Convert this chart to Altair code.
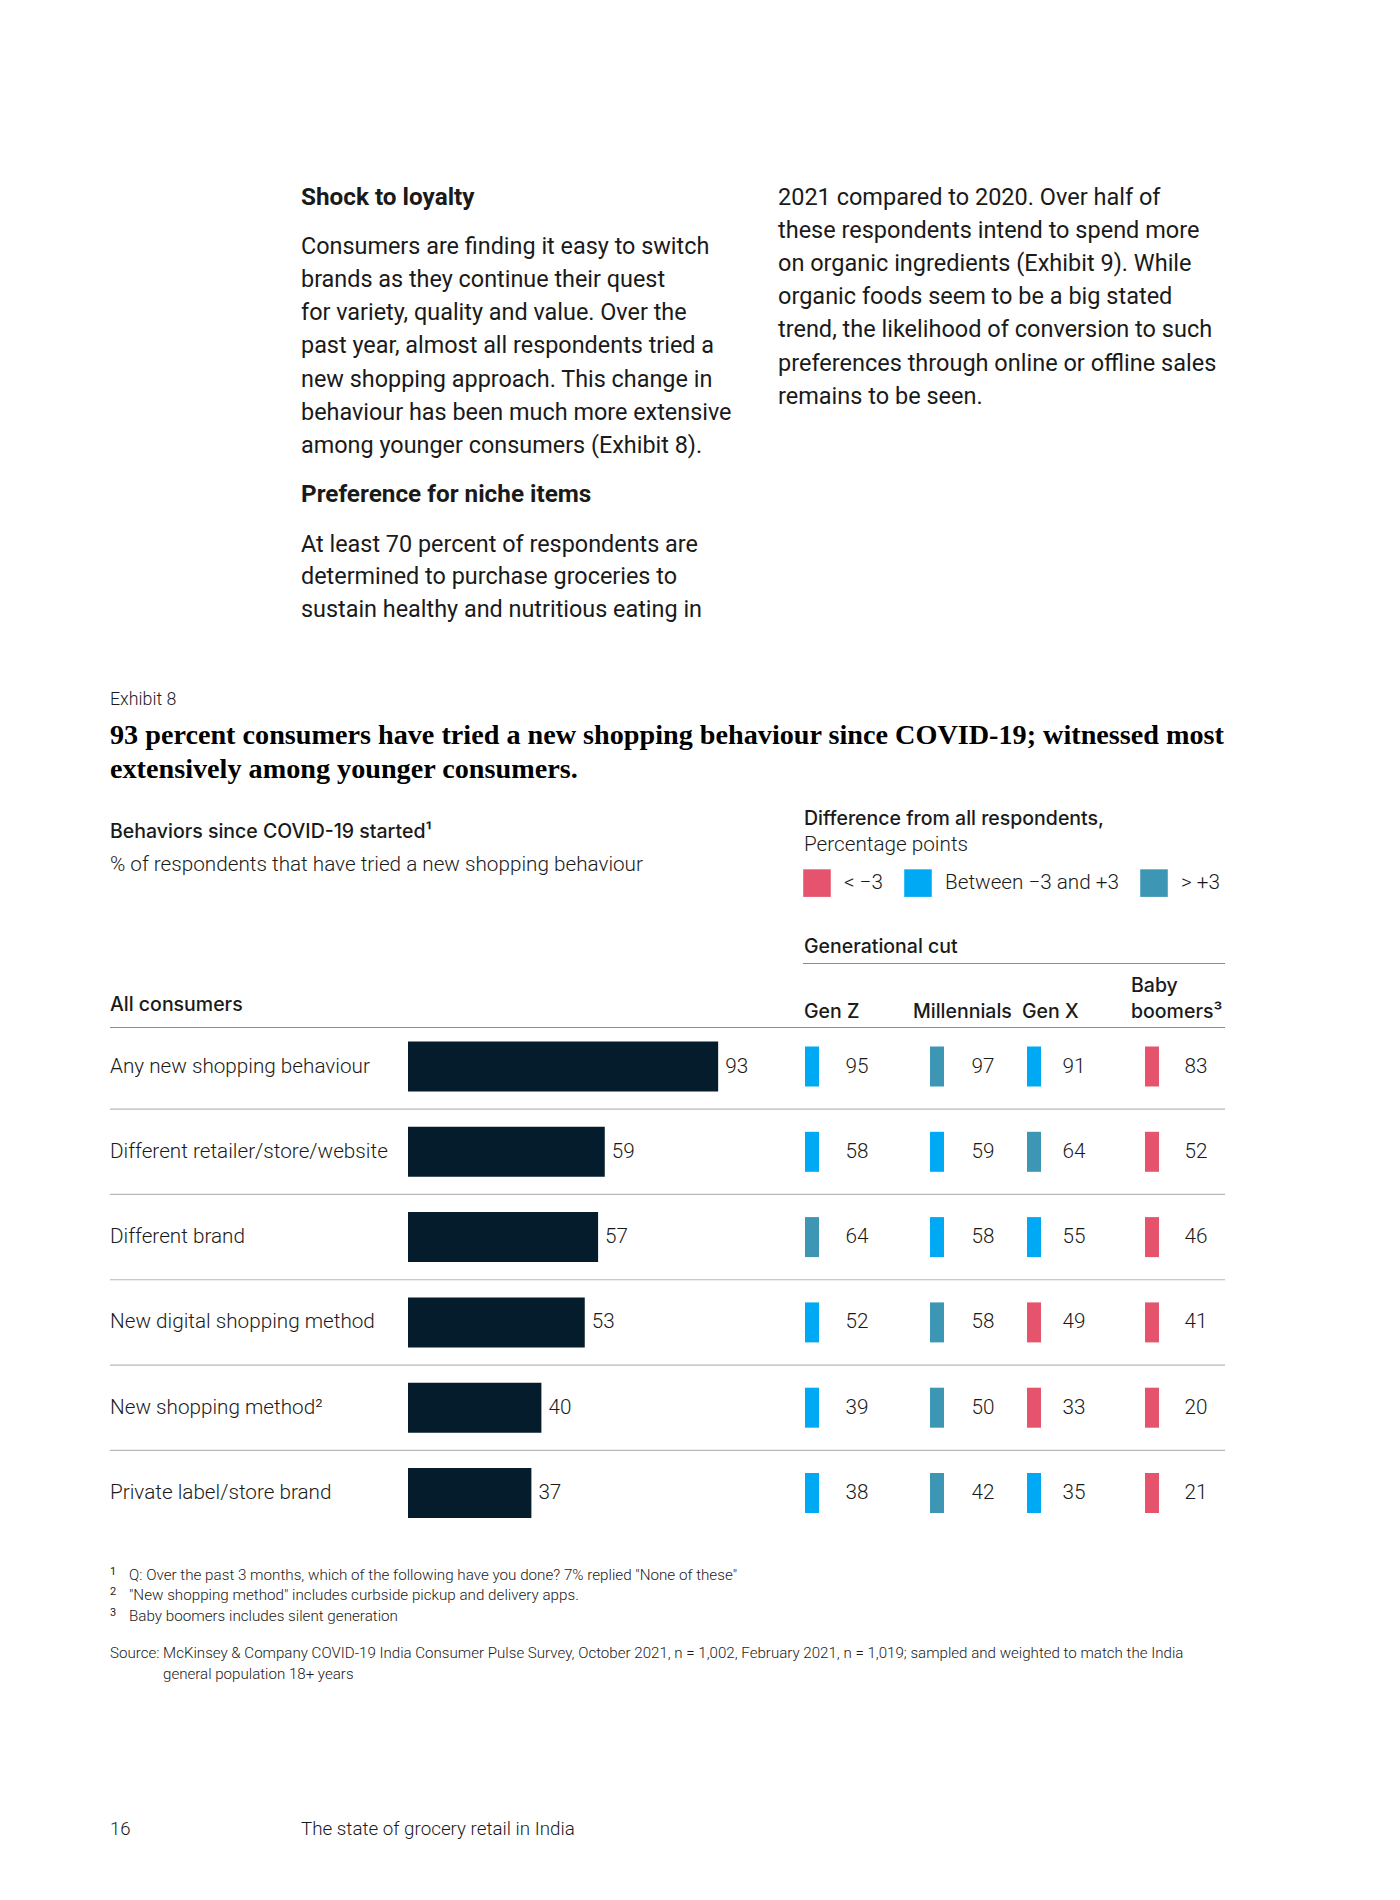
import altair as alt
import pandas as pd

# ---------------- data ----------------
behaviors = [
    "Any new shopping behaviour",
    "Different retailer/store/website",
    "Different brand",
    "New digital shopping method",
    "New shopping method²",
    "Private label/store brand",
]
all_consumers = [93, 59, 57, 53, 40, 37]
gen_z = [95, 58, 64, 52, 39, 38]
millennials = [97, 59, 58, 58, 50, 42]
gen_x = [91, 64, 55, 49, 33, 35]
boomers = [83, 52, 46, 41, 20, 21]
generations = ["Gen Z", "Millennials", "Gen X", "Baby boomers³"]
legend_labels = ["< −3", "Between −3 and +3", "> +3"]
legend_colors = ["#E5546C", "#00A9F4", "#3C96B4"]

left_col = [
    "Consumers are finding it easy to switch",
    "brands as they continue their quest",
    "for variety, quality and value. Over the",
    "past year, almost all respondents tried a",
    "new shopping approach. This change in",
    "behaviour has been much more extensive",
    "among younger consumers (Exhibit 8).",
]
left_col2 = [
    "At least 70 percent of respondents are",
    "determined to purchase groceries to",
    "sustain healthy and nutritious eating in",
]
right_col = [
    "2021 compared to 2020. Over half of",
    "these respondents intend to spend more",
    "on organic ingredients (Exhibit 9). While",
    "organic foods seem to be a big stated",
    "trend, the likelihood of conversion to such",
    "preferences through online or offline sales",
    "remains to be seen.",
]
title_lines = [
    "93 percent consumers have tried a new shopping behaviour since COVID-19; witnessed most",
    "extensively among younger consumers.",
]
footnotes = [
    "Q: Over the past 3 months, which of the following have you done? 7% replied \"None of these\"",
    "\"New shopping method\" includes curbside pickup and delivery apps.",
    "Baby boomers includes silent generation",
]
source_lines = [
    "Source: McKinsey & Company COVID-19 India Consumer Pulse Survey, October 2021, n = 1,002, February 2021, n = 1,019; sampled and weighted to match the India",
    "general population 18+ years",
]

# ---------------- tables ----------------
def cat(d):
    if d < -3:
        return legend_labels[0]
    if d > 3:
        return legend_labels[2]
    return legend_labels[1]

main = pd.DataFrame({"idx": range(len(behaviors)), "behavior": behaviors, "all": all_consumers})
long_rows = []
for g, vals in zip(generations, [gen_z, millennials, gen_x, boomers]):
    for i, v in enumerate(vals):
        long_rows.append({"idx": i, "gen": g, "value": v, "cat": cat(v - all_consumers[i])})
gen_df = pd.DataFrame(long_rows)

O = 8      # page margin
DY = 2.5   # global vertical nudge
SANS = "Roboto"
MED = "Inter"
SERIF = "Liberation Serif"
INK = "#1a1a1a"
LIGHT = 20.7
MEDSZ = 19.5

row0 = 1064 + DY - O
step = 85.3
yscale = alt.Scale(domain=[0, len(behaviors) - 1],
                   range=[row0, row0 + step * (len(behaviors) - 1)],
                   padding=0, nice=False, zero=False)
xscale = alt.Scale(domain=[0, 100], range=[408 - O, 408 - O + 333.5], padding=0, nice=False)
Y = alt.Y("idx:Q", scale=yscale, axis=None)

one = alt.Data(values=[{"a": 1}])


def txt(s, x, y, size=19, weight=400, font=SANS, color=INK, align="left", baseline="middle"):
    return alt.Chart(one).mark_text(
        text=s, font=font, fontSize=size, fontWeight=weight, color=color,
        align=align, baseline=baseline
    ).encode(x=alt.value(x - O), y=alt.value(y + DY - O))


def hline(x1, x2, y, color, w=1):
    return alt.Chart(one).mark_rule(color=color, strokeWidth=w).encode(
        x=alt.value(x1 - O), x2=alt.value(x2 - O), y=alt.value(y + DY - O))


layers = []

# ---- article text ----
layers.append(txt("Shock to loyalty", 301, 195, 24.3, 700))
for i, s in enumerate(left_col):
    layers.append(txt(s, 301, 244 + i * 33.3, 23.4, 400))
layers.append(txt("Preference for niche items", 301, 492, 24.3, 700))
for i, s in enumerate(left_col2):
    layers.append(txt(s, 301, 542 + i * 32.7, 23.4, 400))
for i, s in enumerate(right_col):
    layers.append(txt(s, 778, 195 + i * 33.2, 23.5, 400))

# ---- exhibit header ----
layers.append(txt("Exhibit 8", 110, 697, 17.8, 300))
for i, s in enumerate(title_lines):
    layers.append(txt(s, 110, 733 + i * 34, 28.2, 700, font=SERIF, color="#000"))
layers.append(txt("Behaviors since COVID-19 started¹", 110, 829, MEDSZ, 500, font=MED))
layers.append(txt("% of respondents that have tried a new shopping behaviour", 110, 862, LIGHT, 300))
layers.append(txt("Difference from all respondents,", 804, 816, MEDSZ, 500, font=MED))
layers.append(txt("Percentage points", 804, 842, LIGHT, 300))
layers.append(txt("Generational cut", 804, 944, MEDSZ, 500, font=MED))
layers.append(hline(803, 1225, 961, "#8c8c8c", 1.2))
layers.append(txt("All consumers", 110, 1002, MEDSZ, 500, font=MED))
gen_head_x = [804, 913, 1022, 1131]
for g, hx in zip(generations, gen_head_x):
    if g.startswith("Baby"):
        layers.append(txt("Baby", hx, 983, MEDSZ, 500, font=MED))
        layers.append(txt("boomers³", hx, 1009, MEDSZ, 500, font=MED))
    else:
        layers.append(txt(g, hx, 1009, MEDSZ, 500, font=MED))
layers.append(hline(110, 1225, 1025, "#8c8c8c", 1.2))

# ---- row separators ----
sep = alt.Chart(main).transform_filter(alt.datum.idx < len(behaviors) - 1).transform_calculate(
    sy="datum.idx + 0.5").mark_rule(color="#b8b8b8", strokeWidth=1.2).encode(
    y=alt.Y("sy:Q", scale=yscale, axis=None), x=alt.value(110 - O), x2=alt.value(1225 - O))
layers.append(sep)

# ---- row labels ----
layers.append(alt.Chart(main).mark_text(align="left", baseline="middle", font=SANS, fontSize=LIGHT,
                                        fontWeight=300, color=INK).encode(
    x=alt.value(110 - O), y=Y, text="behavior:N"))

# ---- all-consumer bars ----
layers.append(alt.Chart(main).mark_bar(orient="horizontal", size=50, color="#051C2C").encode(
    x=alt.X("all:Q", scale=xscale, axis=None), y=Y))
layers.append(alt.Chart(main).mark_text(align="left", baseline="middle", dx=7, font=SANS, fontSize=LIGHT,
                                        fontWeight=300, color=INK).encode(
    x=alt.X("all:Q", scale=xscale, axis=None), y=Y, text="all:Q"))

# ---- generational indicators ----
color_enc = alt.Color("cat:N", scale=alt.Scale(domain=legend_labels, range=legend_colors),
                      legend=alt.Legend(orient="none", legendX=803 - O, legendY=869 - O,
                                        direction="horizontal", title=None, symbolType="square",
                                        symbolSize=760, symbolStrokeWidth=0, symbolOpacity=1,
                                        labelFont=SANS, labelFontSize=LIGHT, labelFontWeight=300,
                                        labelColor=INK, labelOffset=13, columnPadding=21,
                                        labelLimit=0, padding=0, values=legend_labels))
bar_left = [805, 930, 1027, 1145]
label_cx = [857, 983, 1074, 1196]
for g, bx, lx in zip(generations, bar_left, label_cx):
    sub = gen_df[gen_df.gen == g]
    layers.append(alt.Chart(sub).mark_tick(orient="vertical", size=40, thickness=14, opacity=1).encode(
        x=alt.value(bx + 7 - O), y=Y, color=color_enc))
    layers.append(alt.Chart(sub).mark_text(align="center", baseline="middle", font=SANS, fontSize=LIGHT,
                                           fontWeight=300, color=INK).encode(
        x=alt.value(lx - O), y=Y, text="value:Q"))

# ---- footnotes ----
for i, s in enumerate(footnotes):
    fy = 1572 + i * 20.5
    layers.append(txt(str(i + 1), 110, fy - 3, 11, 400))
    layers.append(txt(s, 129, fy, 15.2, 300))
layers.append(txt(source_lines[0], 110, 1650.5, 15.1, 300))
layers.append(txt(source_lines[1], 163, 1671.5, 15.1, 300))

# ---- page footer ----
layers.append(txt("16", 110, 1826.5, 18.5, 300))
layers.append(txt("The state of grocery retail in India", 301, 1826.5, 18.8, 300))

chart = alt.layer(*layers).properties(
    width=1384, height=1880, autosize=alt.AutoSizeParams(type="none"), padding=0,
    background="white"
).configure_view(stroke=None, strokeWidth=0)

chart.save("out.html", embed_options={"renderer": "svg", "actions": False})
